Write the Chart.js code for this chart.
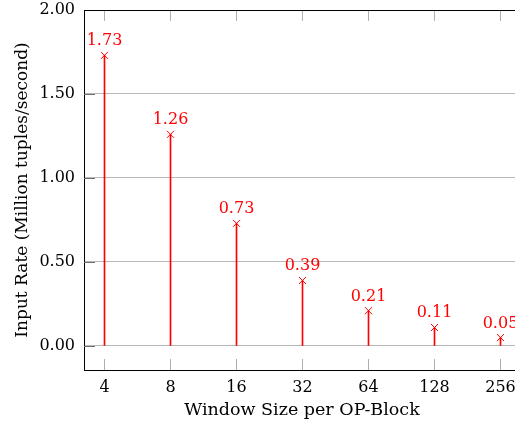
<!DOCTYPE html>
<html>
<head>
<meta charset="utf-8">
<script src="https://cdn.jsdelivr.net/npm/chart.js@4.4.0/dist/chart.umd.min.js"></script>
<style>
  html, body { margin: 0; padding: 0; background: #fff; overflow: hidden; }
  #wrap { width: 530px; height: 427px; }
</style>
</head>
<body>
<div id="wrap"><canvas id="rateChart" width="530" height="427"></canvas></div>
<script>
const windowSizes = ['4', '8', '16', '32', '64', '128', '256'];
const inputRates = [1.73, 1.26, 0.73, 0.39, 0.21, 0.11, 0.05];
const yTicks = [0, 0.5, 1, 1.5, 2];

const serif = '"DejaVu Serif", "Liberation Serif", serif';
const points = inputRates.map((v, i) => ({ x: i, y: v }));

// frame top line, inside tick marks, value labels
const extras = {
    id: 'extras',
    afterDatasetsDraw(chart) {
        const { ctx, chartArea, scales } = chart;
        ctx.save();
        ctx.strokeStyle = '#b0b0b0';
        ctx.lineWidth = 1;
        windowSizes.forEach((_, i) => {
            const px = Math.floor(scales.x.getPixelForValue(i)) + 0.5;
            ctx.beginPath();
            ctx.moveTo(px, chartArea.bottom);
            ctx.lineTo(px, chartArea.bottom - 11);
            ctx.moveTo(px, chartArea.top);
            ctx.lineTo(px, chartArea.top + 11);
            ctx.stroke();
        });
        ctx.strokeStyle = '#707070';
        yTicks.forEach(t => {
            const py = Math.round(scales.y.getPixelForValue(t)) + 0.5;
            ctx.beginPath();
            ctx.moveTo(chartArea.left, py);
            ctx.lineTo(chartArea.left + 11, py);
            ctx.stroke();
        });
        ctx.strokeStyle = '#000';
        ctx.beginPath();
        ctx.moveTo(chartArea.left, chartArea.top + 0.5);
        ctx.lineTo(chartArea.right + 20, chartArea.top + 0.5);
        ctx.stroke();

        ctx.fillStyle = '#ff0000';
        ctx.font = '16px ' + serif;
        ctx.textAlign = 'center';
        ctx.textBaseline = 'alphabetic';
        inputRates.forEach((v, i) => {
            const px = scales.x.getPixelForValue(i);
            const py = scales.y.getPixelForValue(v);
            ctx.fillText(v.toFixed(2), px, py - 10);
        });
        ctx.restore();
    }
};

new Chart(document.getElementById('rateChart'), {
    data: {
        datasets: [{
            type: 'bar',
            data: points,
            backgroundColor: '#ff0000',
            barThickness: 1,
            order: 2
        }, {
            type: 'line',
            data: points,
            showLine: false,
            pointStyle: 'crossRot',
            pointRadius: 5,
            borderColor: '#ff0000',
            borderWidth: 1,
            order: 1
        }]
    },
    options: {
        responsive: false,
        animation: false,
        layout: { padding: { top: 10, right: 10, left: 0, bottom: 0 } },
        plugins: { legend: { display: false }, tooltip: { enabled: false } },
        scales: {
            x: {
                type: 'linear',
                offset: false,
                min: -0.31061,
                max: 6.29539,
                afterBuildTicks: s => { s.ticks = windowSizes.map((_, i) => ({ value: i })); },
                afterFit: s => { s.height = 57; },
                ticks: {
                    callback: v => windowSizes[v],
                    color: '#000',
                    padding: 8,
                    font: { family: serif, size: 16 }
                },
                grid: { display: false, drawTicks: false, offset: false },
                border: { color: '#000', width: 1 },
                title: {
                    display: true,
                    text: 'Window Size per OP-Block',
                    color: '#000',
                    padding: { top: 2, bottom: 6 },
                    font: { family: serif, size: 17.5 }
                }
            },
            y: {
                type: 'linear',
                min: -0.143,
                max: 2.0,
                afterBuildTicks: s => { s.ticks = yTicks.map(v => ({ value: v })); },
                afterFit: s => { s.width = 84; s.paddingTop = 0; s.paddingBottom = 0; },
                ticks: {
                    callback: v => v.toFixed(2),
                    color: '#000',
                    padding: 9,
                    font: { family: serif, size: 16 }
                },
                grid: { color: '#b8b8b8', drawTicks: false },
                border: { color: '#000', width: 1 },
                title: {
                    display: true,
                    text: 'Input Rate (Million tuples/second)',
                    color: '#000',
                    padding: { top: 12, bottom: 4 },
                    font: { family: serif, size: 17 }
                }
            }
        }
    },
    plugins: [extras]
});
</script>
</body>
</html>
